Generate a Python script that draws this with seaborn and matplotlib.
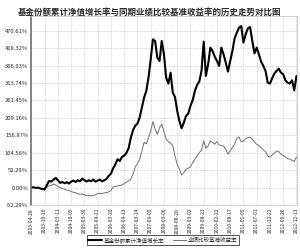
import numpy as np
import pandas as pd
import matplotlib
matplotlib.use("Agg")
import matplotlib.pyplot as plt
import seaborn as sns

sns.set_theme(style="white")
plt.rcParams['font.family'] = ['Noto Sans CJK SC', 'DejaVu Sans']
plt.rcParams['axes.unicode_minus'] = False

title = "基金份额累计净值增长率与同期业绩比较基准收益率的历史走势对比图"
fund_label = "基金份额累计净值增长率"
bench_label = "业绩比较基准收益率"

# sampled every 20 trading days (percent)
fund = [0, 1, -1, 0, -3, -4, -6, 8, 20, 18, 24, 29, 22, 14, 17, 13, 16, 12, 18, 21,
        17, 22, 19, 27, 22, 18, 22, 19, 24, 18, 21, 24, 19, 22, 26, 35, 42, 58, 70, 85,
        80, 92, 96, 104, 118, 150, 172, 186, 192, 210, 240, 270, 290, 330, 385, 445, 440, 390, 380, 440,
        400, 330, 312, 345, 285, 272, 230, 200, 178, 195, 215, 222, 245, 262, 290, 308, 318, 350, 438, 335,
        370, 420, 410, 393, 380, 365, 420, 400, 375, 348, 380, 410, 448, 465, 480, 485, 435, 460, 478, 482,
        440, 403, 420, 400, 378, 365, 350, 315, 312, 328, 342, 350, 357, 345, 340, 322, 315, 312, 322, 292,
        335]
bench = [0, 0, -1, 0, -2, -3, -2, 2, 5, 7, 10, 8, 4, 0, -3, -5, -8, -9, -12, -14,
         -16, -18, -20, -19, -22, -24, -23, -25, -24, -22, -18, -17, -18, -16, -15, -13, -8, 2, 3, 5,
         6, 8, 12, 16, 20, 26, 40, 62, 72, 85, 110, 136, 131, 150, 170, 198, 175, 160, 180, 190,
         168, 145, 138, 134, 125, 95, 70, 55, 38, 45, 55, 58, 62, 75, 85, 95, 105, 112, 140, 118,
         125, 140, 135, 130, 138, 128, 126, 125, 115, 100, 110, 121, 130, 148, 152, 137, 140, 146, 150, 151,
         145, 136, 130, 126, 120, 113, 108, 95, 91, 98, 103, 110, 108, 100, 96, 92, 87, 85, 82, 78,
         92]

x_labels = ["2003-04-28", "2003-10-16", "2004-03-11", "2004-10-05", "2005-03-30", "2005-09-21",
            "2006-03-20", "2006-09-13", "2007-03-14", "2007-09-05", "2008-03-06", "2008-08-28",
            "2009-03-02", "2009-08-21", "2010-02-22", "2010-08-17", "2011-01-05", "2011-07-01",
            "2011-12-22", "2012-06-26", "2012-12-13"]
y_ticks = [-52.29, 0.00, 52.29, 104.58, 156.87, 209.16, 261.45, 313.74, 366.03, 418.32, 470.61]

day = np.arange(len(fund)) * 20
df = pd.DataFrame({"day": day, "fund": fund, "bench": bench})

fig = plt.figure(figsize=(3.0, 2.5), dpi=100)
ax = fig.add_axes([0.103, 0.18, 0.887, 0.756])

sns.lineplot(data=df, x="day", y="bench", ax=ax, color="#6e6e6e", linewidth=0.7, label=bench_label)
sns.lineplot(data=df, x="day", y="fund", ax=ax, color="black", linewidth=1.5, label=fund_label)

ax.set_xlim(-5, 2405)
ax.set_ylim(-52.29, 515)
ax.set_xticks(np.arange(len(x_labels)) * 120)
ax.set_xticklabels(x_labels, rotation=90, fontsize=3.6, color="#222222")
ax.set_yticks(y_ticks)
ax.set_yticklabels([f"{v:.2f}%" for v in y_ticks], fontsize=4.2, color="#222222")
ax.tick_params(axis="both", length=0, pad=2)
ax.set_xlabel("")
ax.set_ylabel("")
ax.grid(True, linestyle=(0, (1, 1.5)), color="#b0b0b0", linewidth=0.5)
for s in ["top", "right", "bottom"]:
    ax.spines[s].set_color("#c8c8c8")
    ax.spines[s].set_linewidth(0.6)
ax.spines["left"].set_color("#707070")
ax.spines["left"].set_linewidth(1.2)

ax.get_legend().remove()
handles, labels = ax.get_legend_handles_labels()
order = [labels.index(fund_label), labels.index(bench_label)]
leg = fig.legend([handles[i] for i in order], [labels[i] for i in order],
                 loc="center", bbox_to_anchor=(0.543, 0.04), ncol=2, fontsize=4.0,
                 frameon=True, fancybox=False, edgecolor="black", handlelength=2.5,
                 columnspacing=1.5, borderpad=0.3, handletextpad=0.3)
leg.get_frame().set_linewidth(0.6)

fig.text(0.5, 0.952, title, ha="center", va="center", fontsize=6.1, fontweight="bold")

fig.savefig("out.png", dpi=100)
